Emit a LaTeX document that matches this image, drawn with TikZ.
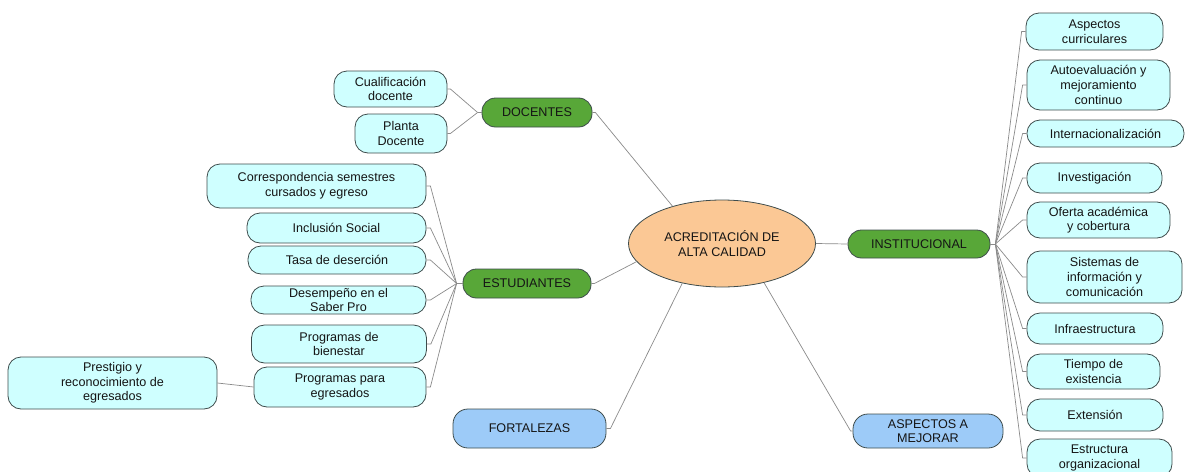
\documentclass[tikz,border=0pt]{standalone}
\usepackage{fontspec}
\setmainfont{Liberation Sans}
\usetikzlibrary{shapes.geometric}
\definecolor{leafc}{HTML}{CFFFFF}
\definecolor{greenc}{HTML}{58A738}
\definecolor{bluec}{HTML}{9DCBF8}
\definecolor{orangec}{HTML}{FBC895}
\definecolor{bordc}{HTML}{3E4C4C}
\definecolor{linec}{HTML}{8A8A8A}
\definecolor{txtc}{HTML}{151515}
\tikzset{
  base/.style={draw=bordc, line width=0.8pt, inner sep=0pt, align=center, text=txtc,
    font=\fontsize{12.6}{14.6}\selectfont},
  leaf/.style={base, fill=leafc, rounded corners=13pt},
  gbranch/.style={base, fill=greenc, rounded corners=13.5pt},
  bbranch/.style={base, fill=bluec, rounded corners=15pt},
  hub/.style={base, ellipse, fill=orangec},
  conn/.style={draw=linec, line width=0.7pt}
}
\begin{document}
\begin{tikzpicture}[x=1pt, y=-1pt]
\useasboundingbox (0,0) rectangle (1185,471);
\clip (0,0) rectangle (1185,471);
% hub
\node[hub, minimum width=187, minimum height=87] (ac) at (722,243.5) {ACREDITACIÓN DE\\ALTA CALIDAD};
% branches
\node[gbranch, minimum width=110, minimum height=29] (doc) at (537,112.5) {DOCENTES};
\node[gbranch, minimum width=128, minimum height=29] (est) at (527,283.5) {ESTUDIANTES};
\node[bbranch, minimum width=153, minimum height=39] (fort) at (529.5,428.5) {FORTALEZAS};
\node[gbranch, minimum width=142, minimum height=28] (inst) at (919,244) {INSTITUCIONAL};
\node[bbranch, minimum width=150, minimum height=34] (asp) at (928,431) {ASPECTOS A\\MEJORAR};
% docentes leaves
\node[leaf, minimum width=113, minimum height=36] (cual) at (390.5,89) {Cualificación\\docente};
\node[leaf, minimum width=92, minimum height=39] (planta) at (401,133.5) {Planta\\Docente};
% estudiantes leaves
\node[leaf, minimum width=219, minimum height=44] (corr) at (316.5,186) {Correspondencia semestres\\cursados y egreso};
\node[leaf, minimum width=179, minimum height=30] (incl) at (336.5,228) {Inclusión Social};
\node[leaf, minimum width=178, minimum height=28] (tasa) at (337,260) {Tasa de deserción};
\node[leaf, minimum width=175, minimum height=28] (desem) at (338.5,300) {Desempeño en el\\Saber Pro};
\node[leaf, minimum width=175, minimum height=38] (bien) at (339,344) {Programas de\\bienestar};
\node[leaf, minimum width=172, minimum height=40] (ppe) at (340,387) {Programas para\\egresados};
\node[leaf, minimum width=209, minimum height=52] (pres) at (112.5,383) {Prestigio y\\reconocimiento de\\egresados};
% institucional leaves
\node[leaf, minimum width=137, minimum height=37] (asc) at (1094.5,31.5) {Aspectos\\curriculares};
\node[leaf, minimum width=143, minimum height=50] (auto) at (1098.5,85) {Autoevaluación y\\mejoramiento\\continuo};
\node[leaf, minimum width=157, minimum height=27] (intl) at (1105.5,133.5) {Internacionalización};
\node[leaf, minimum width=135, minimum height=30] (inv) at (1094.5,178) {Investigación};
\node[leaf, minimum width=143, minimum height=36] (ofer) at (1098.5,220) {Oferta académica\\y cobertura};
\node[leaf, minimum width=155, minimum height=52] (sis) at (1104.5,277) {Sistemas de\\información y\\comunicación};
\node[leaf, minimum width=136, minimum height=31] (infra) at (1095,328.5) {Infraestructura};
\node[leaf, minimum width=133, minimum height=35] (tiem) at (1093.5,371.5) {Tiempo de\\existencia};
\node[leaf, minimum width=136, minimum height=32] (ext) at (1095,415) {Extensión};
\node[leaf, minimum width=145, minimum height=38] (estr) at (1099.5,458) {Estructura\\organizacional};
% hub connectors
\draw[conn] (doc.east) -- ++(3,0) -- (ac.143);
\draw[conn] (est.east) -- ++(3,0) -- (ac.192);
\draw[conn] (fort.east) -- ++(4,0) -- (ac.225);
\draw[conn] (ac.east) -- (inst.west);
\draw[conn] (ac.317) -- ([xshift=-2pt]asp.west) -- (asp.west);
% docentes
\draw[conn] (doc.west) -- ++(-4,0) coordinate (dj);
\foreach \c in {cual,planta}
  \draw[conn] (dj) -- ([xshift=3pt]\c.east) -- (\c.east);
% estudiantes
\draw[conn] (est.west) -- ++(-6,0) coordinate (ej);
\foreach \c in {corr,incl,tasa,desem,bien,ppe}
  \draw[conn] (ej) -- ([xshift=4pt]\c.east) -- (\c.east);
\draw[conn] (pres.east) -- (ppe.west);
% institucional
\draw[conn] (inst.east) -- ++(5,0) coordinate (ij);
\foreach \c in {asc,auto,intl,inv,ofer,sis,infra,tiem,ext,estr}
  \draw[conn] (ij) -- ([xshift=-4pt]\c.west) -- (\c.west);
\end{tikzpicture}
\end{document}
